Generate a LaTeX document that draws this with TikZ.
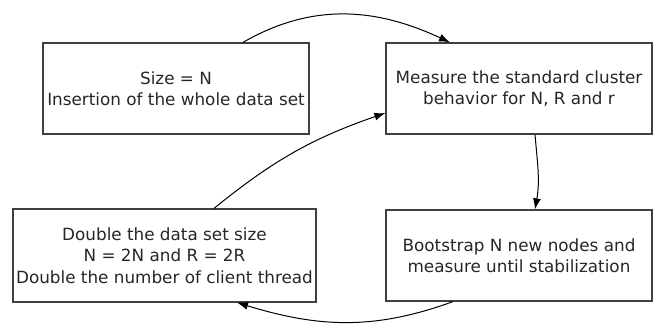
\documentclass[tikz,border=0pt]{standalone}
\usepackage{fontspec}
\setmainfont{DejaVu Sans}
\usepackage{xcolor}
\usetikzlibrary{arrows.meta}

\begin{document}
\begin{tikzpicture}[x=1pt,y=-1pt,
  stepbox/.style={draw=black!75,line width=1.2pt,align=center,inner sep=0pt,
    minimum width=266,minimum height=91,text=black!85,
    font={\fontsize{16.8}{21.5}\selectfont}},
  flow/.style={-{Latex[length=11pt,width=8pt]},line width=1pt}]
\useasboundingbox (0,0) rectangle (657,329);

\node[stepbox] (insert) at (176,88.5) {Size = N\\Insertion of the whole data set};
\node[stepbox] (measure) at (519,88.5) {Measure the standard cluster\\behavior for N, R and r};
\node[stepbox] (bootstrap) at (519,255.5) {Bootstrap N new nodes and\\measure until stabilization};
\node[stepbox,minimum width=303,minimum height=93] (double) at (164.5,255.5)
  {Double the data set size\\N = 2N and R = 2R\\Double the number of client thread};

\draw [flow] ([xshift=67pt]insert.north) to[out=30,in=155] ([xshift=-69pt]measure.north);
\draw [flow] ([xshift=16pt]measure.south) to[out=-85,in=80] ([xshift=16pt]bootstrap.north);
\draw [flow] ([xshift=-66pt]bootstrap.south) to[out=-160,in=-17] ([xshift=72.5pt]double.south);
\draw [flow] ([xshift=49.5pt]double.north) to[bend left=10] ([yshift=-24.5pt]measure.west);
\end{tikzpicture}
\end{document}
